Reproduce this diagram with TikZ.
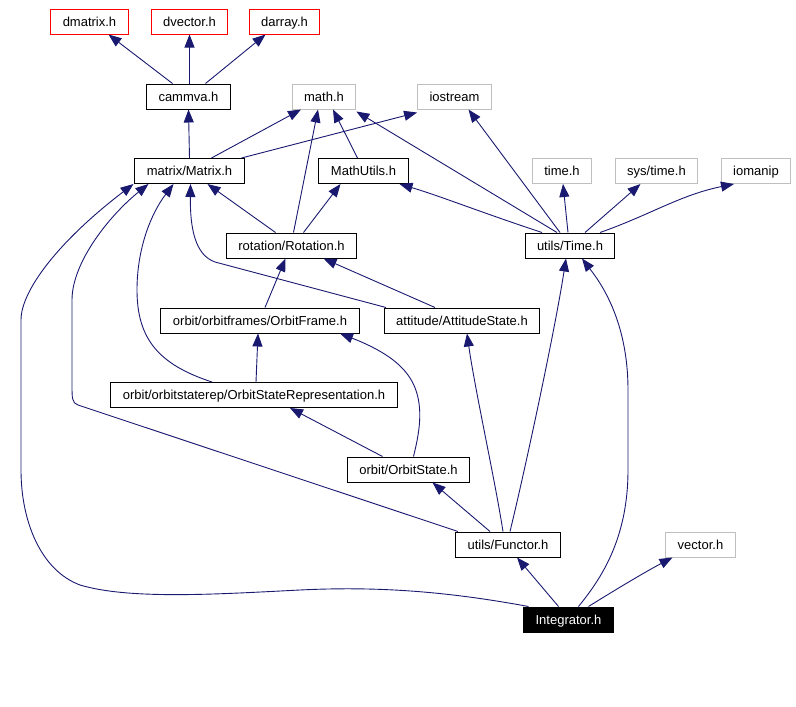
\documentclass[tikz,border=0pt]{standalone}
\usepackage{fontspec}
\setmainfont{Liberation Sans}
\usepackage{xcolor}
\usetikzlibrary{arrows.meta}

\definecolor{edgeblue}{RGB}{25,25,112}
\definecolor{extgrey}{RGB}{191,191,191}

\tikzset{
  file/.style={draw=black,line width=1pt,inner xsep=12pt,inner ysep=0pt,minimum height=25pt,
    text height=10.5pt,text depth=1.5pt,font=\fontsize{13}{15}\selectfont},
  extfile/.style={file,draw=extgrey},
  missingfile/.style={file,draw=red},
  thisfile/.style={file,fill=black,text=white},
  dep/.style={draw=edgeblue,line width=0.9pt,-{Triangle[length=13pt,width=10pt]}}
}

\begin{document}
\begin{tikzpicture}[x=1pt,y=-1pt]

\useasboundingbox (0,0) rectangle (796,707);

% top row
\node[missingfile] (Dmatrix) at (89.5,21.5) {dmatrix.h};
\node[missingfile] (Dvector) at (189.5,21.5) {dvector.h};
\node[missingfile] (Darray) at (284.5,21.5) {darray.h};

\node[file] (Cammva) at (188.5,96.5) {cammva.h};
\node[extfile] (MathH) at (324,96.5) {math.h};
\node[extfile] (Iostream) at (454.5,96.5) {iostream};

\node[file] (Matrix) at (189.5,171) {matrix/Matrix.h};
\node[file] (MathUtils) at (363.5,171) {MathUtils.h};
\node[extfile] (TimeH) at (562,171) {time.h};
\node[extfile] (SysTime) at (656.5,171) {sys/time.h};
\node[extfile] (Iomanip) at (756,171) {iomanip};

\node[file] (Rotation) at (291.5,245.5) {rotation/Rotation.h};
\node[file] (Time) at (570,245.5) {utils/Time.h};

\node[file] (OrbitFrame) at (260,320.5) {orbit/orbitframes/OrbitFrame.h};
\node[file] (AttitudeState) at (462,320.5) {attitude/AttitudeState.h};

\node[file] (OrbitStateRep) at (254,395) {orbit/orbitstaterep/OrbitStateRepresentation.h};

\node[file] (OrbitState) at (408.5,469.5) {orbit/OrbitState.h};

\node[file] (Functor) at (508,544.5) {utils/Functor.h};
\node[extfile] (VectorH) at (700.5,544.5) {vector.h};

\node[thisfile] (Integrator) at (568.5,619.5) {Integrator.h};


% cammva
\draw[dep] ([xshift=-16]Cammva.north) to ([xshift=19]Dmatrix.south);
\draw[dep] ([xshift=1]Cammva.north) to (Dvector.south);
\draw[dep] ([xshift=17]Cammva.north) to ([xshift=-19]Darray.south);

% matrix
\draw[dep] (Matrix.north) to (Cammva.north |- Cammva.south);
\draw[dep] ([xshift=22]Matrix.north) to ([xshift=-23]MathH.south);
\draw[dep] ([xshift=52]Matrix.north) to ([yshift=-3]Iostream.south west);

\draw[dep] ([xshift=-6]MathUtils.north) to ([xshift=9]MathH.south);

% rotation
\draw[dep] ([xshift=-16]Rotation.north) to ([xshift=18]Matrix.south);
\draw[dep] ([xshift=2]Rotation.north) to ([xshift=-6]MathH.south);
\draw[dep] ([xshift=12]Rotation.north) to ([xshift=-23]MathUtils.south);

% time
\draw[dep] ([xshift=-13]Time.north) to ([yshift=-2]MathH.south east);
\draw[dep] ([xshift=-10]Time.north) to ([xshift=14]Iostream.south);
\draw[dep] ([xshift=-28]Time.north) .. controls (480,212) and (440,196) .. ([xshift=36]MathUtils.south);
\draw[dep] ([xshift=-2]Time.north) to ([xshift=1]TimeH.south);
\draw[dep] ([xshift=15]Time.north) to ([xshift=-16]SysTime.south);
\draw[dep] ([xshift=30]Time.north) .. controls (650,215) and (680,195) .. ([xshift=-22]Iomanip.south);

% second level
\draw[dep] ([xshift=5]OrbitFrame.north) to ([xshift=-6]Rotation.south);
\draw[dep] ([xshift=-27]AttitudeState.north) to ([xshift=32]Rotation.south);
\draw[dep] ([xshift=-76]AttitudeState.north) -- (215,262) .. controls (195,255) and (190,228) .. ([xshift=1]Matrix.south);

\draw[dep] ([xshift=2]OrbitStateRep.north) to ([xshift=-2]OrbitFrame.south);
\draw[dep] ([xshift=-42]OrbitStateRep.north) .. controls (160,365) and (137,340) .. (137,290) .. controls (137,250) and (150,215) .. ([xshift=-16]Matrix.south);

\draw[dep] ([xshift=-26]OrbitState.north) to ([xshift=36]OrbitStateRep.south);
\draw[dep] ([xshift=5]OrbitState.north) .. controls (420,430) and (428,392) .. (400,366) .. controls (386,352) and (362,342) .. ([xshift=80]OrbitFrame.south);

% functor
\draw[dep] ([xshift=-18]Functor.north) to ([xshift=24]OrbitState.south);
\draw[dep] ([xshift=-5]Functor.north) .. controls (495,480) and (475,390) .. ([xshift=5]AttitudeState.south);
\draw[dep] ([xshift=2]Functor.north) .. controls (525,470) and (555,330) .. ([xshift=-4]Time.south);
\draw[dep] ([xshift=-50]Functor.north) -- (78,405) .. controls (72,403) and (72,398) .. (72,385) -- (72,300) .. controls (72,262) and (110,215) .. ([xshift=-41]Matrix.south);

% integrator
\draw[dep] ([xshift=-10]Integrator.north) to ([xshift=9]Functor.south);
\draw[dep] ([xshift=20]Integrator.north) .. controls (615,590) and (645,572) .. ([xshift=-28]VectorH.south);
\draw[dep] ([xshift=10]Integrator.north) .. controls (600,580) and (628,540) .. (628,470) -- (628,390) .. controls (628,320) and (600,282) .. ([xshift=12]Time.south);
\draw[dep] ([xshift=-40]Integrator.north) .. controls (450,592) and (380,586) .. (300,590) .. controls (220,594) and (130,600) .. (80,585) .. controls (40,570) and (21,520) .. (21,470) -- (21,320) .. controls (21,290) and (60,240) .. ([xshift=-56]Matrix.south);

\end{tikzpicture}
\end{document}
